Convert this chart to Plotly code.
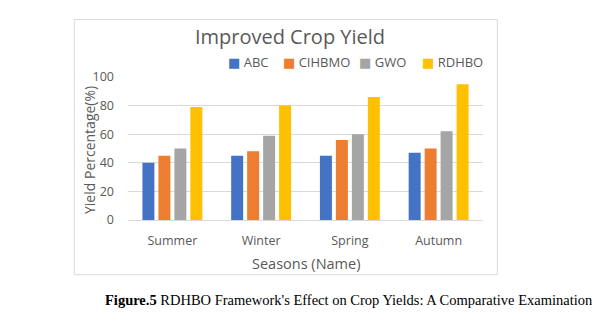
import plotly.graph_objects as go

seasons = ["Summer", "Winter", "Spring", "Autumn"]
abc = [40, 45, 45, 47]
cihbmo = [45, 48, 56, 50]
gwo = [50, 59, 60, 62]
rdhbo = [79, 80, 86, 95]
series_names = ["ABC", "CIHBMO", "GWO", "RDHBO"]
series_colors = ["#4472C4", "#ED7D31", "#A5A5A5", "#FFC000"]
y_ticks = [0, 20, 40, 60, 80, 100]

fig = go.Figure()
for name, vals, col in zip(series_names, [abc, cihbmo, gwo, rdhbo], series_colors):
    fig.add_trace(go.Bar(x=seasons, y=vals, name=name, showlegend=False,
                         marker=dict(color=col, line=dict(width=0))))

gray = "#595959"
W, H = 613, 325
L, R, T, B = 128, 130, 77, 105
pw = W - L - R
ph = H - T - B

def px(x):
    return (x - L) / pw

def py(y):
    return (H - B - y) / ph

annotations = []
# legend (compact, Excel-style) built as text
legend_x = [226, 281, 357, 420]
for name, col, lx in zip(series_names, series_colors, legend_x):
    annotations.append(dict(
        text=f"<span style='color:{col}'>■</span> {name}",
        xref="paper", yref="paper", x=px(lx), y=py(62), xanchor="left", yanchor="middle",
        showarrow=False, font=dict(size=13, color=gray, family="Open Sans, DejaVu Sans, sans-serif")))
# y axis title
annotations.append(dict(text="Yield Percentage(%)", xref="paper", yref="paper",
                        x=px(89), y=py(150), xanchor="center", yanchor="middle", textangle=-90,
                        showarrow=False, font=dict(size=14, color=gray)))
# x axis title
annotations.append(dict(text="Seasons (Name)", xref="paper", yref="paper",
                        x=px(305.5), y=py(263), xanchor="center", yanchor="middle",
                        showarrow=False, font=dict(size=14.5, color=gray)))
# caption
annotations.append(dict(text="<b>Figure.5</b> RDHBO Framework's Effect on Crop Yields: A Comparative Examination",
                        xref="paper", yref="paper", x=px(349), y=py(300), xanchor="center", yanchor="middle",
                        showarrow=False,
                        font=dict(family="Liberation Serif, Times New Roman, serif", size=14.5, color="black")))

fig.update_layout(
    width=W, height=H,
    margin=dict(l=L, r=R, t=T, b=B, autoexpand=False),
    paper_bgcolor="white", plot_bgcolor="white",
    barmode="group", bargap=0.28, bargroupgap=0.25,
    font=dict(family="Open Sans, sans-serif", color=gray),
    showlegend=False,
    title=dict(text="Improved Crop Yield", x=290 / W, xref="container", xanchor="center",
               y=1 - 37 / H, yref="container", yanchor="middle",
               font=dict(size=20, color=gray, family="Open Sans, sans-serif")),
    xaxis=dict(showline=True, linecolor="#d9d9d9", linewidth=1, ticks="",
               ticklabelstandoff=9,
               tickfont=dict(size=12.5, color=gray)),
    yaxis=dict(range=[0, 100], tickvals=y_ticks, showgrid=True, gridcolor="#d9d9d9",
               zeroline=False, showline=False, ticks="", ticklabelstandoff=13,
               tickfont=dict(size=12.5, color=gray)),
    shapes=[dict(type="rect", xref="paper", yref="paper",
                 x0=px(74.3), x1=px(497.3), y0=py(274.7), y1=py(19.5),
                 line=dict(color="#d9d9d9", width=1), fillcolor="rgba(0,0,0,0)", layer="below")],
    annotations=annotations,
)

fig.write_html("out.html")
